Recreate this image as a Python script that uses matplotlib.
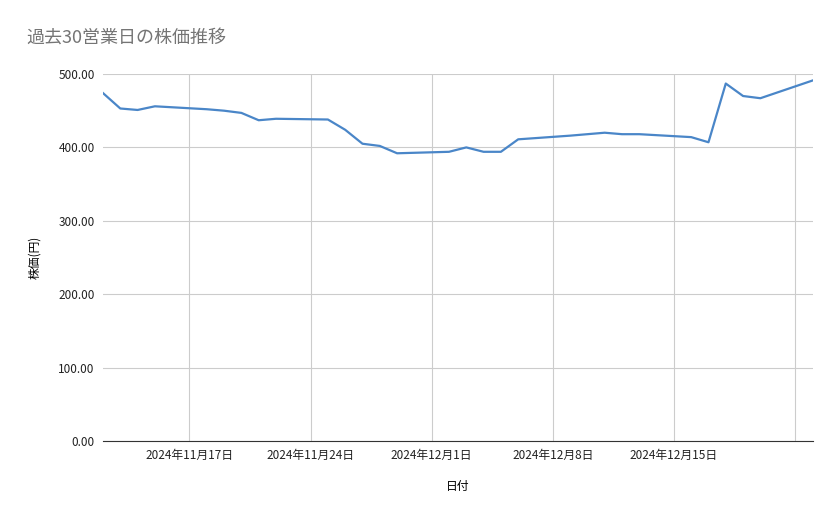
import matplotlib
matplotlib.use("Agg")
import matplotlib.pyplot as plt
import pandas as pd

plt.rcParams['font.family'] = ['Noto Sans CJK JP', 'DejaVu Sans']

dates = ["2024-11-12","2024-11-13","2024-11-14","2024-11-15","2024-11-18","2024-11-19",
         "2024-11-20","2024-11-21","2024-11-22","2024-11-25","2024-11-26","2024-11-27",
         "2024-11-28","2024-11-29","2024-12-02","2024-12-03","2024-12-04","2024-12-05",
         "2024-12-06","2024-12-09","2024-12-10","2024-12-11","2024-12-12","2024-12-13",
         "2024-12-16","2024-12-17","2024-12-18","2024-12-19","2024-12-20","2024-12-23"]
prices = [474, 453, 451, 456, 452, 450, 447, 437, 439, 438, 424, 405, 402, 392, 394, 400,
          394, 394, 411, 416, 418, 420, 418, 418, 414, 407, 487, 470, 467, 491]
tick_dates = ["2024-11-17","2024-11-24","2024-12-01","2024-12-08","2024-12-15","2024-12-22"]
tick_labels = ["2024年11月17日","2024年11月24日","2024年12月1日","2024年12月8日","2024年12月15日",""]
yticks = [0, 100, 200, 300, 400, 500]

d = pd.to_datetime(dates)
fig = plt.figure(figsize=(8.39, 5.19), dpi=100)
ax = fig.add_axes([103/839, 1-441/519, 710/839, 367/519])
ax.plot(d, prices, color="#4a86c8", lw=1.6)
ax.set_xlim(d[0], d[-1] + pd.Timedelta(hours=1))
ax.set_ylim(0, 500)
ax.set_yticks(yticks)
ax.set_yticklabels([f"{v:.2f}" for v in yticks])
ax.set_xticks(pd.to_datetime(tick_dates))
ax.set_xticklabels(tick_labels)
ax.grid(True, color="#cccccc", lw=0.8)
for s in ["top", "right", "left"]:
    ax.spines[s].set_visible(False)
ax.spines["bottom"].set_color("#333333")
ax.tick_params(length=0, labelsize=8.5, colors="#222222", pad=6)
ax.set_xlabel("日付", fontsize=8.5, labelpad=13)
ax.set_ylabel("株価(円)", fontsize=8.5, labelpad=12)
fig.text(26/839, 1-38/519, "過去30営業日の株価推移", fontsize=13, color="#757575", va="center")
fig.savefig("out.png")
